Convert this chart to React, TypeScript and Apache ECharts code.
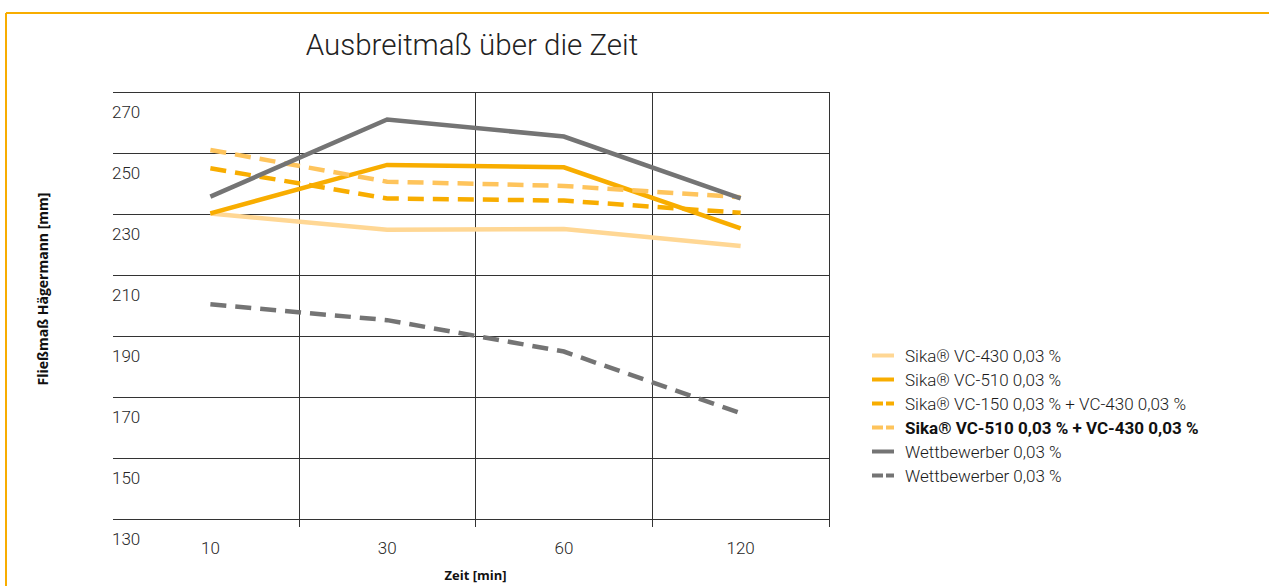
import React, { useEffect, useRef } from "react";
import * as echarts from "echarts";

const categories = ["10", "30", "60", "120"];
const yTicks = [130, 150, 170, 190, 210, 230, 250, 270];

const seriesNames = [
  "Sika® VC-430 0,03 %",
  "Sika® VC-510 0,03 %",
  "Sika® VC-150 0,03 % + VC-430 0,03 %",
  "Sika® VC-510 0,03 % + VC-430 0,03 %",
  "Wettbewerber 0,03 %",
  "Wettbewerber 0,03 % ",
];

const vc430 = [230.2, 224.8, 225.1, 219.5];
const vc510 = [230.2, 246.1, 245.3, 225.3];
const vc150vc430 = [245.0, 235.1, 234.4, 230.4];
const vc510vc430 = [251.0, 240.6, 239.2, 235.5];
const wettSolid = [235.7, 261.0, 255.4, 235.1];
const wettDashed = [200.4, 195.2, 184.9, 164.7];

const seriesData = [vc430, vc510, vc150vc430, vc510vc430, wettSolid, wettDashed];
const colors = ["#FFD794", "#F8AD00", "#F8AD00", "#FEC45C", "#747474", "#747474"];
const dashed = [false, false, true, true, false, true];
const boldLegend = [false, false, false, true, false, false];

const FONT = "Roboto, 'Noto Sans', sans-serif";

export default function App() {
  const ref = useRef<HTMLDivElement>(null);

  useEffect(() => {
    if (!ref.current) return;
    const chart = echarts.init(ref.current, null, { renderer: "svg" });
    const gridColor = "#333333";
    const skipFirst = (i: number) => i !== 0;

    const option: any = {
      animation: false,
      backgroundColor: "#ffffff",
      textStyle: { fontFamily: FONT },
      grid: {
        left: 122,
        top: 92,
        width: 707,
        height: 427,
        containLabel: false,
        outerBoundsMode: "none",
      },
      xAxis: {
        type: "category",
        data: categories,
        boundaryGap: true,
        name: "Zeit [min]",
        nameLocation: "middle",
        nameGap: 49,
        nameTextStyle: {
          fontFamily: "'Open Sans', sans-serif",
          fontWeight: "bold",
          fontSize: 13,
          color: "#111",
        },
        axisLine: { show: false },
        axisTick: {
          show: true,
          length: 8,
          interval: skipFirst,
          lineStyle: { color: gridColor, width: 1 },
        },
        splitLine: {
          show: true,
          interval: skipFirst,
          lineStyle: { color: gridColor, width: 1 },
        },
        axisLabel: {
          interval: 0,
          margin: 20,
          fontSize: 17,
          fontWeight: 300,
          color: "#262626",
          fontFamily: FONT,
        },
      },
      yAxis: {
        type: "value",
        min: yTicks[0],
        max: yTicks[yTicks.length - 1],
        interval: 20,
        axisLine: { show: false },
        axisTick: {
          show: true,
          length: 9,
          lineStyle: { color: gridColor, width: 1 },
        },
        splitLine: { show: true, lineStyle: { color: gridColor, width: 1 } },
        axisLabel: {
          align: "left",
          verticalAlign: "top",
          margin: 10,
          padding: [11, 0, 0, 0],
          fontSize: 17,
          fontWeight: 300,
          color: "#262626",
          fontFamily: FONT,
        },
      },
      legend: {
        orient: "vertical",
        left: 870,
        top: 347,
        padding: 0,
        itemWidth: 22,
        itemHeight: 17,
        itemGap: 7,
        itemStyle: { opacity: 0 },
        textStyle: {
          fontSize: 17,
          fontWeight: 300,
          color: "#1a1a1a",
          fontFamily: FONT,
          padding: [0, 0, 0, 6],
        },
        data: seriesNames.map((name, i) => ({
          name,
          itemStyle: { opacity: 0 },
          lineStyle: dashed[i] ? { type: [11, 3], width: 4 } : { width: 4 },
          textStyle: boldLegend[i]
            ? { fontWeight: "bold", fontFamily: FONT, fontSize: 17, color: "#111" }
            : undefined,
        })),
      },
      graphic: [
        {
          type: "line",
          shape: { x1: 6, y1: 13, x2: 1269, y2: 13 },
          style: { stroke: "#F8AD00", lineWidth: 2 },
        },
        {
          type: "line",
          shape: { x1: 6, y1: 13, x2: 6, y2: 586 },
          style: { stroke: "#F8AD00", lineWidth: 2 },
        },
        {
          type: "text",
          x: 472,
          y: 45,
          style: {
            text: "Ausbreitmaß über die Zeit",
            align: "center",
            verticalAlign: "middle",
            fontSize: 29.5,
            fontWeight: 300,
            fontFamily: FONT,
            fill: "#222",
          },
        },
        {
          type: "text",
          x: 42,
          y: 289,
          rotation: Math.PI / 2,
          style: {
            text: "Fließmaß Hägermann [mm]",
            align: "center",
            verticalAlign: "middle",
            fontSize: 14,
            fontWeight: "bold",
            fontFamily: "'Open Sans', sans-serif",
            fill: "#111",
          },
        },
      ],
      series: seriesNames.map((name, i) => ({
        name,
        type: "line",
        data: seriesData[i],
        showSymbol: false,
        symbol: "none",
        color: colors[i],
        lineStyle: {
          color: colors[i],
          width: 4.5,
          type: dashed[i] ? [16, 9] : "solid",
          join: "miter",
        },
      })),
    };

    chart.setOption(option);
    return () => chart.dispose();
  }, []);

  return (
    <div
      ref={ref}
      style={{ position: "fixed", left: 0, top: 0, width: 1269, height: 586 }}
    />
  );
}
